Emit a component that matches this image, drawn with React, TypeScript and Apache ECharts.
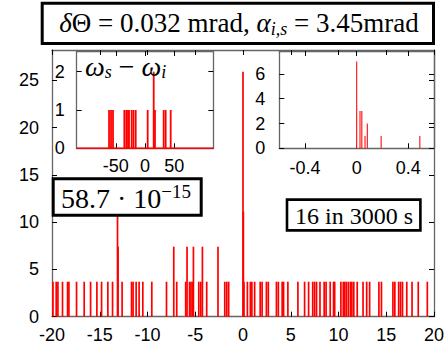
import React, { useEffect, useRef } from 'react';
import * as echarts from 'echarts';

// Main histogram: bar positions and heights
const mainX = [
  -19.9, -19.56, -19.38, -18.9, -18.37, -18.23, -17.43, -16.63, -15.96, -15.3,
  -14.81, -14.15, -13.66, -13.14, -13.08, -12.66, -11.67, -11.51, -11.19, -10.88,
  -10.49, -9.55, -8.01, -7.25, -6.94, -6.0, -5.86, -5.6, -5.45, -5.3, -5.19, -4.63,
  -4.42, -4.25, -3.8, -2.62, -1.91, -1.7, -1.5, 0.0, 0.04, 0.1, 0.46, 0.77, 0.93,
  1.22, 1.8, 2.0, 2.45, 2.65, 3.5, 3.7, 4.1, 4.25, 4.7, 5.75, 6.45, 6.87, 7.3,
  7.5, 7.7, 8.06, 8.5, 8.7, 9.13, 9.48, 9.6, 10.25, 10.5, 10.65, 10.82, 11.03,
  11.25, 11.4, 11.6, 11.96, 12.57, 12.95, 13.26, 14.23, 14.5, 15.7, 15.9, 16.3,
  16.5, 16.7, 17.15, 17.7, 18.35, 19.3,
];
const mainY = [
  3.7, 3.7, 3.7, 3.7, 3.7, 3.7, 3.7, 3.7, 3.7, 3.7,
  3.7, 3.7, 3.7, 11.1, 7.4, 3.7, 3.7, 3.7, 3.7, 3.7,
  3.7, 3.7, 3.7, 7.4, 3.7, 3.7, 7.4, 3.7, 3.7, 3.7, 7.4, 3.7,
  3.7, 7.4, 3.7, 7.4, 3.7, 3.7, 3.7, 25.9, 11.1, 3.7, 3.7, 3.7, 3.7,
  3.7, 3.7, 3.7, 3.7, 3.7, 3.7, 3.7, 3.7, 3.7, 3.7, 3.7, 3.7, 3.7, 3.7,
  3.7, 3.7, 3.7, 3.7, 3.7, 3.7, 3.7, 3.7, 3.7, 3.7, 3.7, 3.7, 3.7,
  3.7, 3.7, 3.7, 3.7, 3.7, 3.7, 3.7, 3.7, 3.7, 3.7, 3.7, 3.7,
  3.7, 3.7, 3.7, 3.7, 3.7, 3.7,
];
const mainXTicks = [-20, -15, -10, -5, 0, 5, 10, 15, 20];
const mainYTicks = [0, 5, 10, 15, 20, 25];

// Left inset: omega_s - omega_i
const inset1X = [-61.6, -58.2, -54.8, -35.4, -32, -29.1, -27.4, -22.8, -19.7, -15.9, 4.6, 14.9, 17.1, 32, 35.4, 44];
const inset1Y = [1, 1, 1, 1, 1, 1, 1, 1, 1, 1, 1, 2, 1, 1, 1, 1];
const inset1XTicks = [-50, 0, 50];
const inset1YTicks = [0, 1, 2];

// Right inset: zoom around 0
const inset2X = [0.0, 0.026, 0.04, 0.065, 0.083, 0.19, 0.49];
const inset2Y = [7, 3, 3, 1, 2, 1, 1];
const inset2XTicks = [-0.4, 0, 0.4];
const inset2YTicks = [0, 2, 4, 6];

const SANS = 'Liberation Sans';
const SERIF = 'Liberation Serif';
const AXIS_COLOR = '#666';

function xAx(grid: number, min: number, max: number, ticks: number[], pos: 'top' | 'bottom', labels: boolean, margin: number) {
  return {
    type: 'value', gridIndex: grid, min, max, position: pos,
    axisLine: { show: true, onZero: false, lineStyle: { color: AXIS_COLOR, width: 1.3 } },
    axisTick: { show: true, inside: true, length: 5, customValues: ticks, lineStyle: { color: '#000', width: 1 } },
    axisLabel: { show: labels, customValues: ticks, color: '#000', fontFamily: SANS, fontSize: 18, margin },
    splitLine: { show: false },
  };
}
function yAx(grid: number, min: number, max: number, ticks: number[], pos: 'left' | 'right', labels: boolean, margin: number) {
  return {
    type: 'value', gridIndex: grid, min, max, position: pos,
    axisLine: { show: true, onZero: false, lineStyle: { color: AXIS_COLOR, width: 1.3 } },
    axisTick: { show: true, inside: true, length: 5, customValues: ticks, lineStyle: { color: '#000', width: 1 } },
    axisLabel: { show: labels, customValues: ticks, color: '#000', fontFamily: SANS, fontSize: 18, margin },
    splitLine: { show: false },
  };
}

export default function App() {
  const ref = useRef<HTMLDivElement>(null);
  useEffect(() => {
    if (!ref.current) return;
    const chart = echarts.init(ref.current, undefined, { renderer: 'svg' });
    const option: any = {
      animation: false,
      backgroundColor: '#fff',
      grid: [
        { left: 52, right: 14, top: 50, bottom: 36.3, show: false },
        { left: 76.7, right: 234.7, top: 51, bottom: 204.7, show: true, backgroundColor: '#fff', borderWidth: 0 },
        { left: 279.3, right: 14, top: 51, bottom: 204.7, show: true, backgroundColor: '#fff', borderWidth: 0 },
      ],
      xAxis: [
        xAx(0, -20, 20, mainXTicks, 'bottom', true, 9),
        xAx(0, -20, 20, mainXTicks, 'top', false, 8),
        xAx(1, -117, 117, inset1XTicks, 'bottom', true, 9),
        xAx(1, -117, 117, inset1XTicks, 'top', false, 8),
        xAx(2, -0.6, 0.6, inset2XTicks, 'bottom', true, 11),
        xAx(2, -0.6, 0.6, inset2XTicks, 'top', false, 8),
      ],
      yAxis: [
        yAx(0, 0, 28.2, mainYTicks, 'left', true, 13),
        yAx(0, 0, 28.2, mainYTicks, 'right', false, 8),
        yAx(1, 0, 2.54, inset1YTicks, 'left', true, 12),
        yAx(1, 0, 2.54, inset1YTicks, 'right', false, 8),
        yAx(2, 0, 7.85, inset2YTicks, 'left', true, 14),
        yAx(2, 0, 7.85, inset2YTicks, 'right', false, 8),
      ],
      series: [
        {
          type: 'bar', xAxisIndex: 0, yAxisIndex: 0, barWidth: 1.7, silent: true,
          itemStyle: { color: '#ff0000' },
          data: mainX.map((x, i) => [x, mainY[i]]),
        },
        {
          type: 'line', xAxisIndex: 2, yAxisIndex: 2, symbol: 'none', silent: true,
          lineStyle: { color: '#ff0000', width: 1.5 },
          data: [[-117, 0], [117, 0]],
        },
        {
          type: 'bar', xAxisIndex: 2, yAxisIndex: 2, barWidth: 1.8, silent: true,
          itemStyle: { color: '#ff0000' },
          data: inset1X.map((x, i) => [x, inset1Y[i]]),
        },
        {
          type: 'bar', xAxisIndex: 4, yAxisIndex: 4, barWidth: 1.2, silent: true,
          itemStyle: { color: '#ff2020' },
          data: inset2X.map((x, i) => [x, inset2Y[i]]),
        },
      ],
      graphic: [
        {
          type: 'rect', z: 100, shape: { x: 42.2, y: 3.2, width: 391.3, height: 40.3 },
          style: { fill: '#fff', stroke: '#000', lineWidth: 3 },
        },
        {
          type: 'text', z: 101, x: 239, y: 23,
          style: {
            text: '{i|δ}{n|Θ = 0.032 mrad, }{i|α}{s|i,s}{n| = 3.45mrad}',
            align: 'center', verticalAlign: 'middle', fill: '#000',
            font: '27px Liberation Serif',
            rich: {
              n: { fontFamily: SERIF, fontSize: 27, lineHeight: 30 },
              i: { fontFamily: SERIF, fontSize: 27, fontStyle: 'italic', lineHeight: 30 },
              s: { fontFamily: SERIF, fontSize: 18, fontStyle: 'italic', lineHeight: 18, verticalAlign: 'bottom' },
            },
          },
        },
        {
          type: 'text', z: 101, x: 85, y: 66,
          style: {
            text: '{i|ω}{s|s}{n| − }{i|ω}{s|i}',
            align: 'left', verticalAlign: 'middle', fill: '#000',
            font: '28px Liberation Serif',
            rich: {
              n: { fontFamily: SERIF, fontSize: 28, lineHeight: 30 },
              i: { fontFamily: SERIF, fontSize: 28, fontStyle: 'italic', lineHeight: 30 },
              s: { fontFamily: SERIF, fontSize: 18, fontStyle: 'italic', lineHeight: 18, verticalAlign: 'bottom' },
            },
          },
        },
        {
          type: 'rect', z: 100, shape: { x: 53.2, y: 178.8, width: 148, height: 36.4 },
          style: { fill: '#fff', stroke: '#000', lineWidth: 3 },
        },
        {
          type: 'text', z: 101, x: 126, y: 198,
          style: {
            text: '{n|58.7 · 10}{p|−15}',
            align: 'center', verticalAlign: 'middle', fill: '#000',
            font: '28px Liberation Serif',
            rich: {
              n: { fontFamily: SERIF, fontSize: 28, lineHeight: 32 },
              p: { fontFamily: SERIF, fontSize: 19, lineHeight: 19, verticalAlign: 'top' },
            },
          },
        },
        {
          type: 'rect', z: 100, shape: { x: 287, y: 199.6, width: 133.4, height: 30.8 },
          style: { fill: '#fff', stroke: '#000', lineWidth: 2.6 },
        },
        {
          type: 'text', z: 101, x: 354, y: 215.5,
          style: {
            text: '16 in 3000 s', align: 'center', verticalAlign: 'middle', fill: '#000',
            fontFamily: SERIF, fontSize: 24,
          },
        },
      ],
    };
    chart.setOption(option);
    return () => chart.dispose();
  }, []);
  return <div ref={ref} style={{ position: 'fixed', left: 0, top: 0, width: 448, height: 353 }} />;
}
